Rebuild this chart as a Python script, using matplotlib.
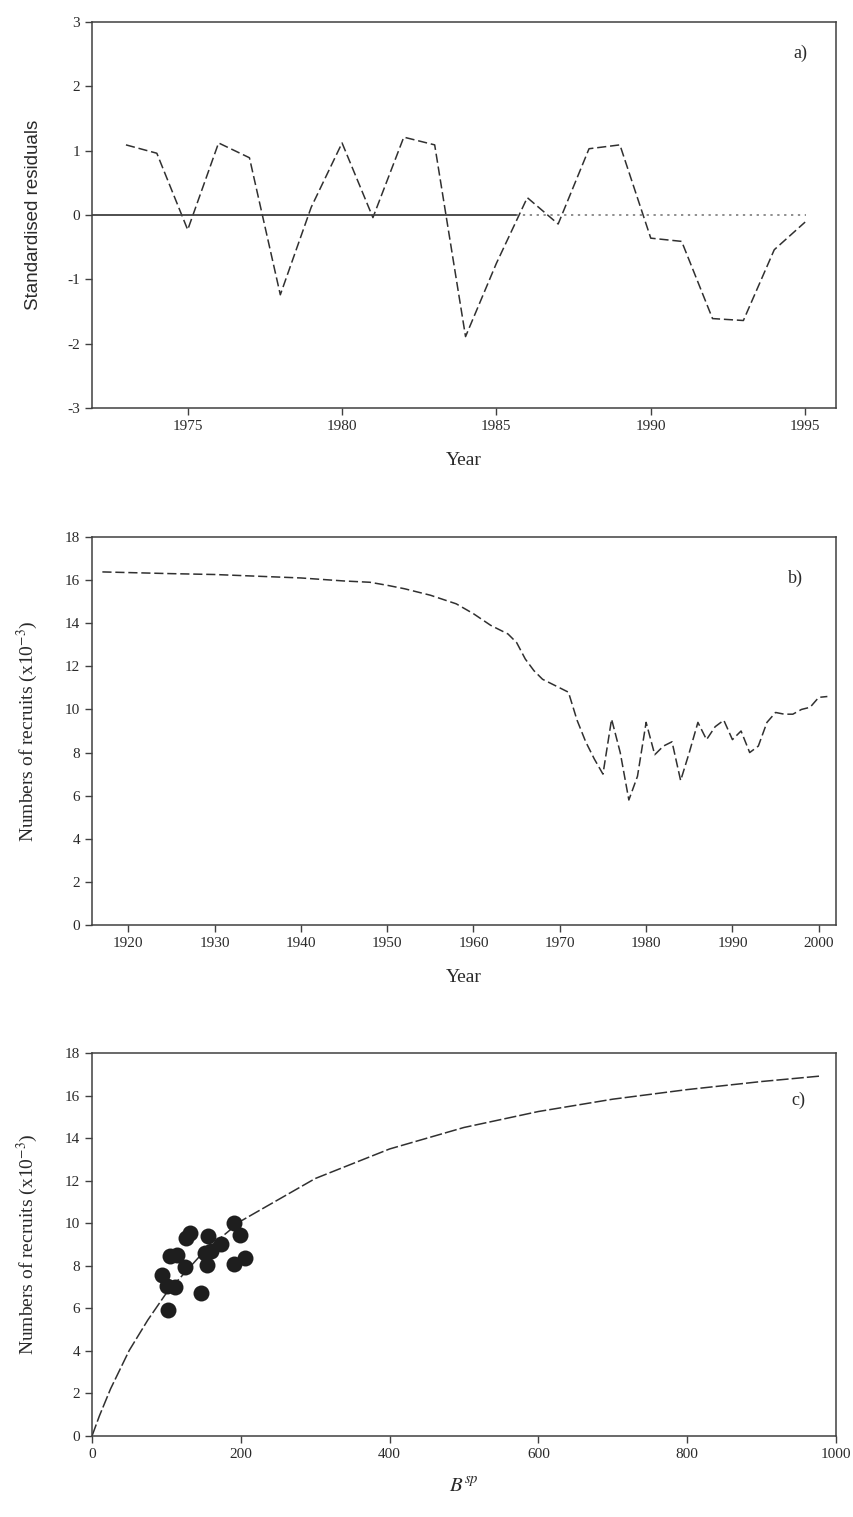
import matplotlib
matplotlib.use("Agg")
import matplotlib.pyplot as plt

plt.rcParams['font.family'] = ['Liberation Serif', 'DejaVu Serif']
plt.rcParams['axes.unicode_minus'] = False
plt.rcParams['mathtext.fontset'] = 'stix'

# ---------------- data ----------------
# a) standardised residuals
years_a = [1973, 1974, 1975, 1976, 1977, 1978, 1979, 1980, 1981, 1982, 1983, 1984,
           1985, 1986, 1987, 1988, 1989, 1990, 1991, 1992, 1993, 1994, 1995]
resid_a = [1.09, 0.96, -0.23, 1.12, 0.89, -1.24, 0.12, 1.12, -0.04, 1.21, 1.09, -1.89,
           -0.75, 0.27, -0.14, 1.03, 1.09, -0.36, -0.41, -1.61, -1.64, -0.54, -0.11]

# b) numbers of recruits over time
years_b = [1917, 1920, 1925, 1930, 1935, 1940, 1945, 1948, 1950, 1952, 1955, 1958, 1960,
           1962, 1964, 1965, 1966, 1967, 1968, 1970, 1971, 1972, 1973, 1974, 1975, 1976,
           1977, 1978, 1979, 1980, 1981, 1982, 1983, 1984, 1985, 1986, 1987, 1988, 1989,
           1990, 1991, 1992, 1993, 1994, 1995, 1996, 1997, 1998, 1999, 2000, 2001]
recr_b = [16.38, 16.35, 16.30, 16.26, 16.18, 16.10, 15.96, 15.90, 15.76, 15.60, 15.30, 14.90,
          14.44, 13.90, 13.50, 13.10, 12.34, 11.80, 11.40, 11.00, 10.80, 9.50, 8.50, 7.70,
          7.00, 9.55, 8.00, 5.80, 6.90, 9.40, 7.90, 8.30, 8.50, 6.70, 8.00, 9.40, 8.60,
          9.20, 9.50, 8.60, 9.00, 8.00, 8.30, 9.40, 9.86, 9.78, 9.78, 10.00, 10.10, 10.56, 10.60]

# c) stock-recruit: fitted curve and observations
curve_B = [0, 10, 25, 50, 75, 100, 150, 200, 300, 400, 500, 600, 700, 800, 900, 980]
curve_R = [0.0, 0.95, 2.22, 4.02, 5.45, 6.72, 8.65, 10.10, 12.10, 13.49, 14.50, 15.25,
           15.83, 16.28, 16.66, 16.92]
obs_B = [94, 101, 111, 102, 105, 114, 125, 127, 132, 146, 152, 160, 156, 155, 174, 191, 199, 191, 206]
obs_R = [7.59, 7.04, 6.99, 5.90, 8.44, 8.52, 7.93, 9.30, 9.56, 6.73, 8.60, 8.68, 9.38, 8.05,
         9.02, 10.00, 9.45, 8.08, 8.36]

a_xticks = [1975, 1980, 1985, 1990, 1995]
b_xticks = [1920, 1930, 1940, 1950, 1960, 1970, 1980, 1990, 2000]
c_xticks = [0, 200, 400, 600, 800, 1000]

# ---------------- figure ----------------
W, H = 854, 1517
fig = plt.figure(figsize=(W / 100, H / 100), dpi=100)

def rect(left, top, right, bottom):
    return [left / W, 1 - bottom / H, (right - left) / W, (bottom - top) / H]

ax_a = fig.add_axes(rect(92, 22, 836, 408))
ax_b = fig.add_axes(rect(92, 537, 836, 925))
ax_c = fig.add_axes(rect(92, 1053, 836, 1436))

txt = '#2a2a2a'
line_col = '#303030'

for ax in (ax_a, ax_b, ax_c):
    for s in ax.spines.values():
        s.set_color('#404040')
        s.set_linewidth(1.1)
    ax.tick_params(direction='out', length=5, width=1, colors='#404040',
                   labelsize=11, labelcolor=txt)

# a)
ax_a.plot(years_a, resid_a, color=line_col, lw=1.1, dashes=(6, 2.5))
ax_a.axhline(0, xmin=0, xmax=0.57, color='#404040', lw=1.3)
ax_a.axhline(0, xmin=0.57, xmax=0.96, color='#707070', lw=1.1, dashes=(1.5, 3))
ax_a.set_xlim(1971.9, 1996.0)
ax_a.set_ylim(-3, 3)
ax_a.set_xticks(a_xticks)
ax_a.set_yticks([-3, -2, -1, 0, 1, 2, 3])
ax_a.set_xlabel('Year', fontsize=14, color=txt, labelpad=14)
ax_a.set_ylabel('Standardised residuals', fontsize=13.5, color=txt,
                family=['Liberation Sans', 'DejaVu Sans'], labelpad=18)
ax_a.text(0.952, 0.92, 'a)', transform=ax_a.transAxes, fontsize=13, color=txt,
          ha='center', va='center')

# b)
ax_b.plot(years_b, recr_b, color=line_col, lw=1.1, dashes=(6, 2.5))
ax_b.set_xlim(1915.8, 2002.0)
ax_b.set_ylim(0, 18)
ax_b.set_xticks(b_xticks)
ax_b.set_yticks(range(0, 19, 2))
ax_b.set_xlabel('Year', fontsize=14, color=txt, labelpad=14)
ax_b.set_ylabel(r'Numbers of recruits (x10$^{-3}$)', fontsize=14, color=txt, labelpad=18)
ax_b.text(0.945, 0.894, 'b)', transform=ax_b.transAxes, fontsize=13, color=txt,
          ha='center', va='center')

# c)
ax_c.plot(curve_B, curve_R, color=line_col, lw=1.1, dashes=(8, 2))
ax_c.plot(obs_B, obs_R, 'o', color='#1e1e1e', markersize=11.5, markeredgewidth=0)
ax_c.set_xlim(0, 1000)
ax_c.set_ylim(0, 18)
ax_c.set_xticks(c_xticks)
ax_c.set_yticks(range(0, 19, 2))
ax_c.set_xlabel(r'$B^{sp}$', fontsize=15, color=txt, labelpad=12)
ax_c.set_ylabel(r'Numbers of recruits (x10$^{-3}$)', fontsize=14, color=txt, labelpad=18)
ax_c.text(0.95, 0.877, 'c)', transform=ax_c.transAxes, fontsize=13, color=txt,
          ha='center', va='center')

fig.savefig('out.png', dpi=100)
